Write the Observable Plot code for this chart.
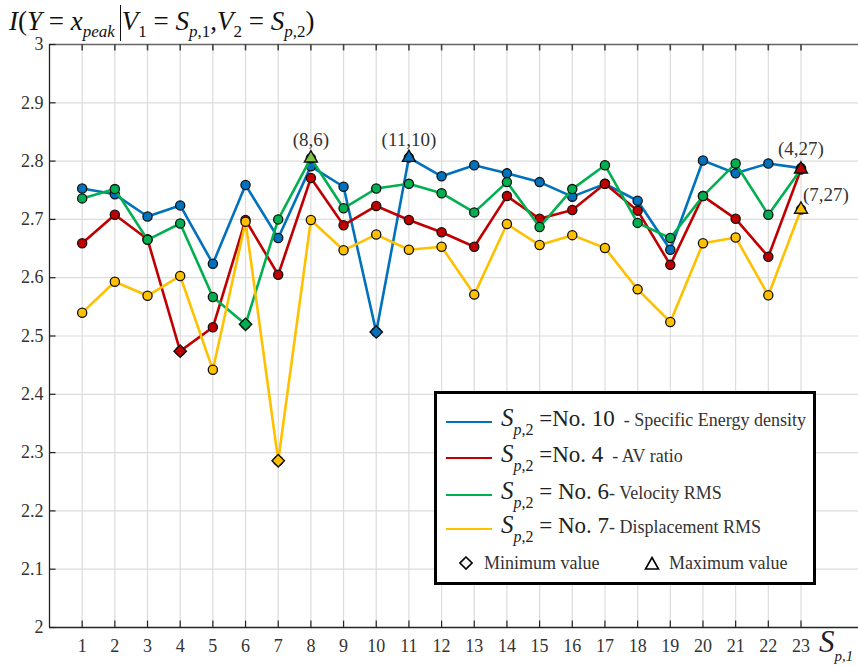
<!DOCTYPE html>
<html>
<head>
<meta charset="utf-8">
<script src="https://cdn.jsdelivr.net/npm/d3@7"></script>
<script src="https://cdn.jsdelivr.net/npm/@observablehq/plot@0.6"></script>
<style>
  html, body { margin: 0; padding: 0; background: #fff; }
  #wrap { position: relative; width: 858px; height: 666px; overflow: hidden; font-family: "Liberation Serif", serif; color: #222; }
  #title { position: absolute; left: 9px; top: 1px; font-size: 27px; white-space: nowrap; color: #111; line-height: 40px; }
  #title sub { font-size: 17px; vertical-align: -7px; line-height: 0; }
  #title .bar { display: inline-block; border-left: 1.6px solid #111; height: 36px; vertical-align: -11px; margin-left: 5px; margin-right: 1px; }
  #xlabel { position: absolute; left: 819px; top: 624px; font-size: 31px; font-style: italic; color: #222; white-space: nowrap; line-height: 36px; }
  #xlabel sub { font-size: 15px; vertical-align: -9px; line-height: 0; }
  #legend { position: absolute; left: 434px; top: 391px; width: 376px; height: 188px; border: 3px solid #000; background: #fff; }
  .row { position: absolute; left: 0; height: 34px; line-height: 34px; white-space: nowrap; }
  .row .sw { display: inline-block; width: 46px; height: 0; border-top: 2.6px solid; margin-left: 9px; margin-right: 9px; vertical-align: middle; }
  .row .s { font-style: italic; font-size: 25px; }
  .row sub { font-size: 16px; vertical-align: -9px; line-height: 0; }
  .row .no { font-size: 23px; }
  .row .desc { font-size: 18px; color: #333; }
  .sym { position: absolute; top: 154px; height: 30px; line-height: 30px; font-size: 18px; color: #333; white-space: nowrap; }
  .sym svg { vertical-align: middle; position: relative; top: -2px; }
</style>
</head>
<body>
<div id="wrap">
  <div id="chart"></div>
  <div id="title"><i>I</i>(<i>Y</i> = <i>x</i><sub><i>peak</i></sub><span class="bar"></span><i>V</i><sub>1</sub> = <i>S</i><sub><i>p</i>,1</sub>,<i>V</i><sub>2</sub> = <i>S</i><sub><i>p</i>,2</sub>)</div>
  <div id="xlabel">S<sub>p,1</sub></div>
  <div id="legend"></div>
</div>
<script>
// ---- data ----
const xTicks = [1,2,3,4,5,6,7,8,9,10,11,12,13,14,15,16,17,18,19,20,21,22,23];
const yTicks = [2,2.1,2.2,2.3,2.4,2.5,2.6,2.7,2.8,2.9,3];

const seriesNames = ["No. 10", "No. 4", "No. 6", "No. 7"];
const seriesDesc = ["Specific Energy density", "AV ratio", "Velocity RMS", "Displacement RMS"];
const seriesColors = ["#0072BD", "#C00000", "#00B050", "#FFC000"];
const maxColors = ["#0072BD", "#C00000", "#7DC242", "#FFC000"];

const no10 = [2.753,2.743,2.705,2.724,2.624,2.759,2.668,2.791,2.756,2.507,2.806,2.774,2.793,2.779,2.764,2.739,2.761,2.732,2.648,2.801,2.779,2.796,2.788];
const no4  = [2.659,2.708,2.666,2.474,2.515,2.699,2.605,2.771,2.690,2.723,2.699,2.678,2.653,2.740,2.701,2.716,2.761,2.715,2.622,2.740,2.701,2.636,2.786];
const no6  = [2.736,2.752,2.665,2.693,2.567,2.520,2.700,2.805,2.719,2.753,2.761,2.745,2.712,2.764,2.687,2.752,2.793,2.694,2.668,2.740,2.796,2.708,2.786];
const no7  = [2.540,2.593,2.569,2.603,2.442,2.696,2.286,2.699,2.647,2.674,2.648,2.653,2.571,2.692,2.656,2.673,2.651,2.580,2.524,2.659,2.669,2.570,2.717];

const annotX = [8, 11, 23, 23];
const annotY = [2.805, 2.806, 2.786, 2.717];
const annotLabel = ["(8,6)", "(11,10)", "(4,27)", "(7,27)"];

// ---- build tables ----
const allValues = [no10, no4, no6, no7];
const tables = allValues.map((vals, k) => xTicks.map((x, i) => ({x, y: vals[i], series: seriesNames[k]})));
const mins = allValues.map((vals, k) => { const i = d3.minIndex(vals); return {x: xTicks[i], y: vals[i], color: seriesColors[k]}; });
const maxs = allValues.map((vals, k) => { const i = d3.maxIndex(vals); return {x: xTicks[i], y: vals[i], color: maxColors[k]}; });
const annots = annotX.map((x, i) => ({x, y: annotY[i], label: annotLabel[i]}));

const yGrid = yTicks.filter(d => d > 2 && d < 3);
const serif = "Liberation Serif, serif";

const seriesMarks = tables.flatMap((t, k) => [
  Plot.line(t, {x: "x", y: "y", stroke: seriesColors[k], strokeWidth: 2.6}),
  Plot.dot(t, {x: "x", y: "y", r: 4.6, fill: seriesColors[k], stroke: "#111", strokeWidth: 1.3})
]);

const plot = Plot.plot({
  width: 858,
  height: 666,
  marginTop: 44,
  marginBottom: 39,
  marginLeft: 49,
  marginRight: 0,
  style: {fontFamily: serif, fontSize: "18px", color: "#333", background: "transparent", overflow: "visible"},
  x: {domain: [0, 24.76], axis: null},
  y: {domain: [2, 3], axis: null},
  marks: [
    Plot.ruleX(xTicks, {stroke: "#dcdcdc", strokeWidth: 1.2}),
    Plot.ruleY(yGrid, {stroke: "#dcdcdc", strokeWidth: 1.2}),
    Plot.axisX(xTicks, {anchor: "bottom", label: null, tickSize: 0, tickPadding: 12, fontSize: 18, fontFamily: serif, fill: "#333"}),
    Plot.axisY(yTicks, {anchor: "left", label: null, tickSize: 0, tickPadding: 6, fontSize: 18, fontFamily: serif, fill: "#333", tickFormat: d3.format("~g")}),
    Plot.ruleY([2], {stroke: "#222", strokeWidth: 1.3}),
    Plot.ruleY([3], {stroke: "#666", strokeWidth: 1.6}),
    Plot.ruleX([0], {stroke: "#222", strokeWidth: 1.3}),
    Plot.ruleX(xTicks, {y1: 2, y2: 2.011, stroke: "#222", strokeWidth: 1.2}),
    Plot.ruleX(xTicks, {y1: 2.989, y2: 3, stroke: "#444", strokeWidth: 1.6}),
    Plot.ruleY(yTicks, {x1: 0, x2: 0.2, stroke: "#222", strokeWidth: 1.2}),
    ...seriesMarks,
    Plot.dot(mins, {x: "x", y: "y", symbol: "diamond2", r: 5.6, fill: {value: "color", scale: null}, stroke: "#111", strokeWidth: 1.4}),
    Plot.dot(maxs, {x: "x", y: "y", symbol: "triangle2", r: 6.2, fill: {value: "color", scale: null}, stroke: "#111", strokeWidth: 1.4}),
    Plot.text(annots.slice(0, 2), {x: "x", y: "y", text: "label", dy: -18, fontSize: 19, fill: "#333", fontFamily: serif}),
    Plot.text(annots.slice(2, 3), {x: "x", y: "y", text: "label", dy: -20, fontSize: 19, fill: "#333", fontFamily: serif}),
    Plot.text(annots.slice(3, 4), {x: "x", y: "y", text: "label", dx: 25, dy: -15, fontSize: 19, fill: "#333", fontFamily: serif})
  ]
});
document.getElementById("chart").append(plot);

// ---- legend ----
const legend = document.getElementById("legend");
const rowTops = [7, 43, 80, 114];
const eqs = ["=", "=", "= ", "= "];
seriesNames.forEach((name, k) => {
  const row = document.createElement("div");
  row.className = "row";
  row.style.top = rowTops[k] + "px";
  row.innerHTML = `<span class="sw" style="border-color:${seriesColors[k]}"></span>` +
    `<span class="s">S</span><sub><i>p</i>,2</sub><span class="no">&nbsp;${eqs[k].replace(" ", "&nbsp;")}${name}</span>` +
    `<span class="desc">${k < 2 ? "&nbsp;&nbsp;" : ""}- ${seriesDesc[k]}</span>`;
  legend.append(row);
});
const s1 = document.createElement("div");
s1.className = "sym"; s1.style.left = "22px";
s1.innerHTML = `<svg width="14" height="14" style="margin-right:11px"><path d="M7 1 L13 7 L7 13 L1 7 Z" fill="none" stroke="#000" stroke-width="1.6"/></svg>Minimum value`;
legend.append(s1);
const s2 = document.createElement("div");
s2.className = "sym"; s2.style.left = "207px";
s2.innerHTML = `<svg width="16" height="14" style="margin-right:9px"><path d="M8 1.5 L14.5 13 L1.5 13 Z" fill="none" stroke="#000" stroke-width="1.6"/></svg>Maximum value`;
legend.append(s2);
</script>
</body>
</html>
